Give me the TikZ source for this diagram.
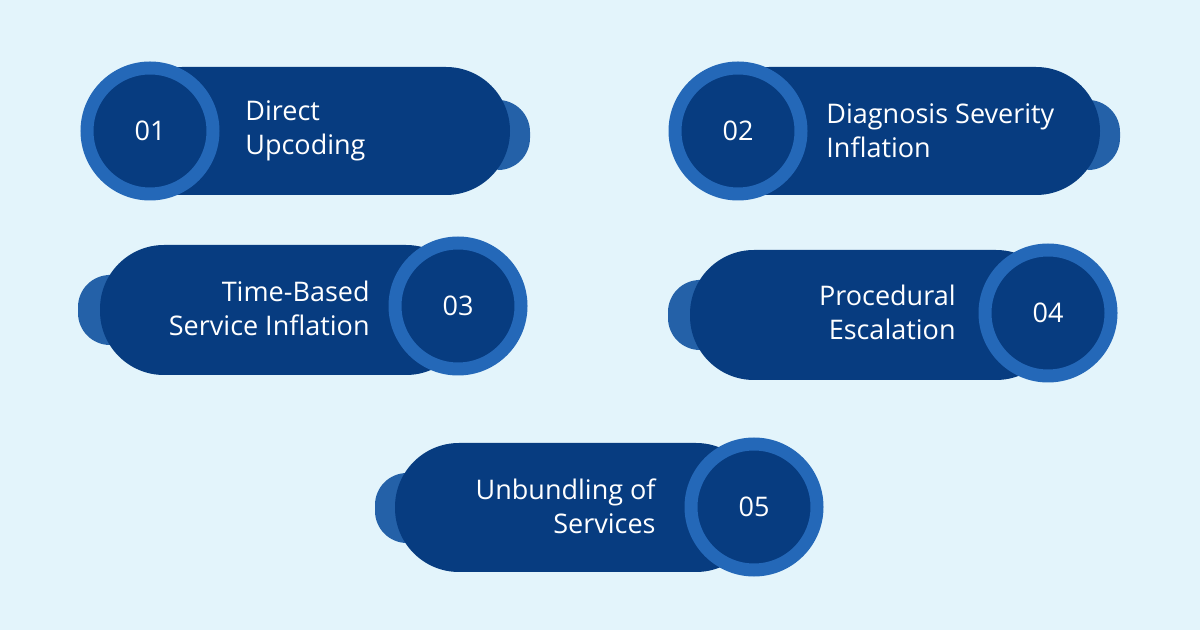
\documentclass[tikz,border=0pt]{standalone}
\usepackage{fontspec}
\setmainfont{Open Sans}
\usetikzlibrary{positioning}
\definecolor{bgblue}{HTML}{E3F4FB}
\definecolor{navy}{HTML}{073C80}
\definecolor{ringblue}{HTML}{2468B8}
\definecolor{tabblue}{HTML}{2461A8}
\begin{document}
\begin{tikzpicture}[x=0.5pt, y=-0.5pt,
	pill/.style={fill=navy, rounded corners=32pt},
	tab/.style={fill=tabblue, rounded corners=16pt},
	ring/.style={circle, fill=navy, draw=ringblue, line width=6.5pt, minimum size=63pt, text=white, font=\fontsize{13.5}{15}\selectfont},
	lbl/.style={text=white, font=\fontsize{13.5}{17}\selectfont, inner sep=0pt}]
	\fill[bgblue] (0,0) rectangle (1200,630);
	\useasboundingbox (0,0) rectangle (1200,630);
	
	% top row
	\fill[tab] (470,100) rectangle (530,170);
	\fill[pill] (118,67) rectangle (510,195);
	\node[ring] (c1) at (150,131) {01};
	\node[lbl, anchor=west, align=left] (t1) at (245,131) {Direct\\Upcoding};
	
	\fill[tab] (1060,100) rectangle (1120,170);
	\fill[pill] (705,67) rectangle (1100,195);
	\node[ring] (c2) at (738,131) {02};
	\node[lbl, anchor=west, align=left] (t2) at (826,131) {Diagnosis Severity\\Inflation};
	
	% middle row
	\fill[tab] (78,275) rectangle (140,345);
	\fill[pill] (100,245) rectangle (470,375);
	\node[ring] (c3) at (458,306) {03};
	\node[lbl, anchor=east, align=right] (t3) at (370,308) {Time-Based\\Service Inflation};
	
	\fill[tab] (668,280) rectangle (730,350);
	\fill[pill] (690,250) rectangle (1060,380);
	\node[ring] (c4) at (1048,313) {04};
	\node[lbl, anchor=east, align=right] (t4) at (956,312) {Procedural\\Escalation};
	
	% bottom
	\fill[tab] (375,473) rectangle (437,543);
	\fill[pill] (395,443) rectangle (760,572);
	\node[ring] (c5) at (754,507) {05};
	\node[lbl, anchor=east, align=right] (t5) at (656,506) {Unbundling of\\Services};
\end{tikzpicture}
\end{document}
